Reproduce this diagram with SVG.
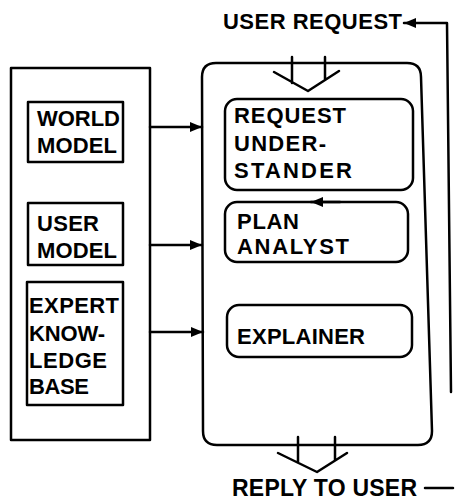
<svg xmlns="http://www.w3.org/2000/svg" width="455" height="500" viewBox="0 0 455 500">
<defs>
<style>
.b{fill:none;stroke:#000;stroke-width:2.5;stroke-linejoin:round;stroke-linecap:round}
.t{font-family:"Liberation Sans",Arial,sans-serif;font-weight:bold;font-size:22px;fill:#000}
</style>
<marker id="ah" viewBox="0 0 12 10" refX="12" refY="5" markerWidth="12" markerHeight="10" markerUnits="userSpaceOnUse" orient="auto">
<path d="M0,0 L12,5 L0,10 Z" fill="#000"/>
</marker>
</defs>
<rect width="455" height="500" fill="#fff"/>
<g id="knowledge">
<rect class="b" x="11" y="68" width="139" height="372"/>
</g>
<g id="world-model">
<rect class="b" x="28" y="102" width="95" height="60"/>
<text class="t" x="37" y="126" textLength="83" lengthAdjust="spacing">WORLD</text>
<text class="t" x="37" y="153" textLength="80" lengthAdjust="spacing">MODEL</text>
</g>
<g id="user-model">
<rect class="b" x="28" y="203" width="95" height="62"/>
<text class="t" x="37" y="231" textLength="62" lengthAdjust="spacing">USER</text>
<text class="t" x="37" y="258" textLength="80" lengthAdjust="spacing">MODEL</text>
</g>
<g id="expert">
<rect class="b" x="27" y="282" width="96" height="123"/>
<text class="t" x="29" y="313" textLength="90" lengthAdjust="spacing">EXPERT</text>
<text class="t" x="29" y="341" textLength="76" lengthAdjust="spacing">KNOW-</text>
<text class="t" x="29" y="368" textLength="78" lengthAdjust="spacing">LEDGE</text>
<text class="t" x="29" y="394" textLength="60" lengthAdjust="spacing">BASE</text>
</g>
<g id="system">
<path class="b" d="M216,63 L407,63 Q421,63 421,77 L432,431 Q432,445 418,445 L217,445 Q203,445 203,431 L202,77 Q202,63 216,63 Z"/>
</g>
<g id="request-understander">
<rect class="b" x="225" y="99" width="188" height="91" rx="12"/>
<text class="t" x="234" y="123" textLength="112" lengthAdjust="spacing">REQUEST</text>
<text class="t" x="234" y="151" textLength="92" lengthAdjust="spacing">UNDER-</text>
<text class="t" x="234" y="178" textLength="118" lengthAdjust="spacing">STANDER</text>
</g>
<g id="plan-analyst">
<rect class="b" x="225" y="202" width="183" height="60" rx="12"/>
<text class="t" x="237" y="229" textLength="62" lengthAdjust="spacing">PLAN</text>
<text class="t" x="237" y="254" textLength="112" lengthAdjust="spacing">ANALYST</text>
</g>
<g id="explainer">
<rect class="b" x="227" y="305" width="185" height="52" rx="12"/>
<text class="t" x="237" y="344" textLength="128" lengthAdjust="spacing">EXPLAINER</text>
</g>
<g id="user-request">
<text class="t" x="223" y="29" textLength="179" lengthAdjust="spacing">USER REQUEST</text>
</g>
<g id="reply">
<text class="t" x="232" y="496" style="font-size:23px" textLength="185" lengthAdjust="spacing">REPLY TO USER</text>
</g>
<g id="connectors">
<path class="b" d="M150,127 L202,127" marker-end="url(#ah)"/>
<path class="b" d="M150,245 L202,245" marker-end="url(#ah)"/>
<path class="b" d="M150,332 L203,332" marker-end="url(#ah)"/>
<path class="b" d="M292,57 L292,83 M325,57 L325,79 M274,72 L308,91 L339,71"/>
<path class="b" d="M298,437 L298,462 M335,437 L335,460 M278,453 L317,472 L347,453"/>
<path class="b" d="M451,392 L447,23 L404,23" marker-end="url(#ah)"/>
<path class="b" d="M340,202 L311,202" marker-end="url(#ah)"/>
<path class="b" d="M425,488 L453,488"/>
</g>
</svg>
